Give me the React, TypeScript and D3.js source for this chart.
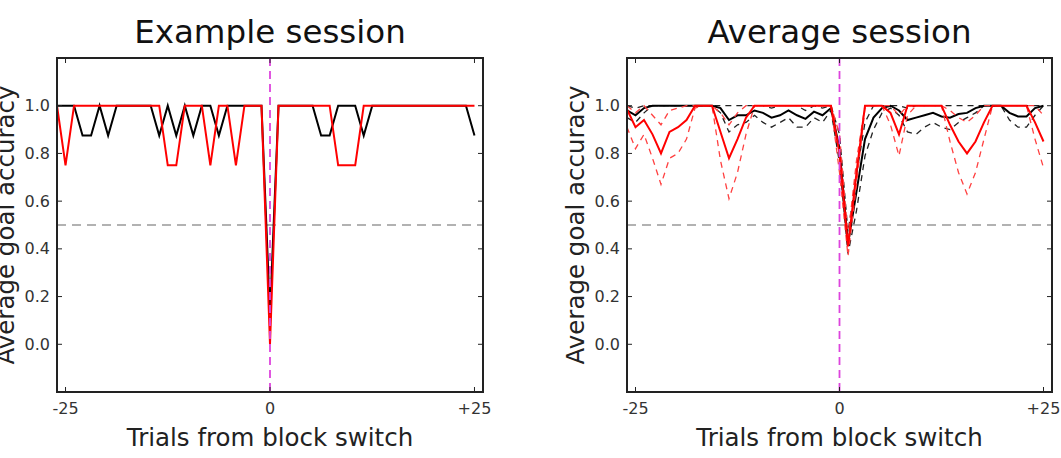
import * as d3 from 'd3'

// trials relative to the block switch
const trials = [
  -25, -24, -23, -22, -21, -20, -19, -18, -17, -16,
  -15, -14, -13, -12, -11, -10, -9, -8, -7, -6,
  -5, -4, -3, -2, -1, 0, 1, 2, 3, 4,
  5, 6, 7, 8, 9, 10, 11, 12, 13, 14,
  15, 16, 17, 18, 19, 20, 21, 22, 23, 24,
]

const xTicks = [-24, 0, 24]
const xTickLabels = ['-25', '0', '+25']
const yTicks = [0, 0.2, 0.4, 0.6, 0.8, 1.0]

// example session
const exampleBlack = [
  1, 1, 1, 0.875, 0.875, 1, 0.875, 1, 1, 1,
  1, 1, 0.875, 1, 0.875, 1, 0.875, 1, 1, 0.875,
  1, 1, 1, 1, 1, 0.125, 1, 1, 1, 1,
  1, 0.875, 0.875, 1, 1, 1, 0.875, 1, 1, 1,
  1, 1, 1, 1, 1, 1, 1, 1, 1, 0.875,
]
const exampleRed = [
  1, 0.75, 1, 1, 1, 1, 1, 1, 1, 1,
  1, 1, 1, 0.75, 0.75, 1, 1, 1, 0.75, 1,
  1, 0.75, 1, 1, 1, 0, 1, 1, 1, 1,
  1, 1, 1, 0.75, 0.75, 0.75, 1, 1, 1, 1,
  1, 1, 1, 1, 1, 1, 1, 1, 1, 1,
]

// average session: mean and bounds
const avgBlack = [
  0.98, 0.96, 0.99, 1, 1, 1, 1, 1, 1, 1,
  1, 0.99, 0.94, 0.96, 0.96, 0.98, 0.97, 0.95, 0.96, 0.98,
  0.96, 0.945, 0.975, 0.96, 0.99, 0.82, 0.42, 0.64, 0.86, 0.95,
  0.99, 1, 0.98, 0.94, 0.95, 0.96, 0.97, 0.955, 0.95, 0.965,
  0.97, 0.99, 1, 1, 1, 0.97, 0.955, 0.955, 0.99, 1,
]
const avgBlackLow = [
  0.95, 0.93, 0.97, 1, 1, 1, 1, 1, 1, 1,
  1, 0.97, 0.89, 0.92, 0.93, 0.96, 0.93, 0.91, 0.93, 0.95,
  0.91, 0.91, 0.95, 0.93, 0.98, 0.76, 0.38, 0.56, 0.79, 0.9,
  0.97, 0.99, 0.96, 0.89, 0.88, 0.91, 0.93, 0.91, 0.9, 0.93,
  0.95, 0.97, 1, 1, 1, 0.94, 0.91, 0.91, 0.96, 1,
]
const avgBlackHigh = [
  1, 0.99, 1, 1, 1, 1, 1, 1, 1, 1,
  1, 1, 1, 1, 1, 1, 1, 0.99, 1, 1,
  1, 0.98, 1, 0.99, 1, 0.88, 0.47, 0.71, 0.93, 1,
  1, 1, 1, 0.99, 1, 1, 1, 1, 1, 1,
  1, 1, 1, 1, 1, 1, 1, 1, 1, 1,
]
const avgRed = [
  0.985, 0.91, 0.94, 0.88, 0.8, 0.89, 0.91, 0.94, 1, 1,
  1, 0.89, 0.78, 0.86, 0.95, 1, 1, 1, 1, 1,
  1, 1, 1, 1, 1, 0.8, 0.41, 0.72, 1, 1,
  1, 0.97, 0.88, 1, 1, 1, 1, 1, 0.92, 0.85,
  0.8, 0.85, 0.93, 1, 1, 1, 1, 1, 0.93, 0.85,
]
const avgRedLow = [
  0.91, 0.82, 0.88, 0.78, 0.67, 0.78, 0.8, 0.86, 0.99, 1,
  1, 0.77, 0.61, 0.72, 0.88, 1, 1, 1, 1, 1,
  1, 1, 1, 1, 1, 0.72, 0.37, 0.67, 0.99, 1,
  1, 0.92, 0.79, 0.96, 1, 1, 1, 1, 0.85, 0.72,
  0.63, 0.72, 0.86, 1, 1, 1, 1, 1, 0.86, 0.74,
]
const avgRedHigh = [
  1, 0.97, 1, 0.96, 0.92, 0.98, 0.99, 1, 1, 1,
  1, 0.97, 0.92, 0.97, 1, 1, 1, 1, 1, 1,
  1, 1, 1, 1, 1, 0.88, 0.45, 0.77, 1, 1,
  1, 1, 0.96, 1, 1, 1, 1, 1, 0.98, 0.95,
  0.93, 0.96, 1, 1, 1, 1, 1, 1, 1, 0.96,
]

const font = '"DejaVu Sans", sans-serif'
const top = 58
const bottom = 392

type Series = { values: number[]; color: string; width: number; dash?: string }

function Panel({ left, right, title, series }: { left: number; right: number; title: string; series: Series[] }) {
  const x = d3.scaleLinear().domain([-25, 25]).range([left, right])
  const y = d3.scaleLinear().domain([-0.2, 1.2]).range([bottom, top])
  const line = d3.line<number>().x((_, i) => x(trials[i])).y(v => y(v))
  const cx = (left + right) / 2
  return (
    <g>
      <text x={cx} y={43} textAnchor="middle" fontSize={32.5} fill="#111">{title}</text>
      <line x1={left} x2={right} y1={y(0.5)} y2={y(0.5)} stroke="#999" strokeWidth={1.5} strokeDasharray="9,6" />
      {series.map((s, k) => (
        <path key={k} d={line(s.values) ?? ''} fill="none" stroke={s.color} strokeWidth={s.width}
          strokeDasharray={s.dash} strokeLinejoin="miter" />
      ))}
      <line x1={x(0)} x2={x(0)} y1={top} y2={bottom} stroke="#dd44dd" strokeWidth={1.8} strokeDasharray="8,5" />
      {yTicks.map(t => (
        <g key={t}>
          <line x1={left} x2={left + 5} y1={y(t)} y2={y(t)} stroke="#222" strokeWidth={1} />
          <line x1={right} x2={right - 5} y1={y(t)} y2={y(t)} stroke="#222" strokeWidth={1} />
          <text x={left - 7} y={y(t) + 5.5} textAnchor="end" fontSize={16} fill="#333">{t.toFixed(1)}</text>
        </g>
      ))}
      {xTicks.map((t, i) => (
        <g key={t}>
          <line x1={x(t)} x2={x(t)} y1={bottom} y2={bottom - 5} stroke="#222" strokeWidth={1} />
          <line x1={x(t)} x2={x(t)} y1={top} y2={top + 5} stroke="#222" strokeWidth={1} />
          <text x={x(t)} y={414} textAnchor="middle" fontSize={16} fill="#333">{xTickLabels[i]}</text>
        </g>
      ))}
      <rect x={left} y={top} width={right - left} height={bottom - top} fill="none" stroke="#222" strokeWidth={2} />
      <text x={cx} y={446} textAnchor="middle" fontSize={24.5} fill="#222">Trials from block switch</text>
      <text transform={`translate(${left - 43},${(top + bottom) / 2}) rotate(-90)`} textAnchor="middle"
        fontSize={24.5} fill="#222">Average goal accuracy</text>
    </g>
  )
}

export default function App() {
  return (
    <svg width={1061} height={458} style={{ position: 'absolute', left: 0, top: 0, fontFamily: font, background: '#fff' }}>
      <Panel left={57} right={483} title="Example session" series={[
        { values: exampleBlack, color: '#000', width: 2 },
        { values: exampleRed, color: '#ff0000', width: 2 },
      ]} />
      <Panel left={627} right={1052} title="Average session" series={[
        { values: avgBlackLow, color: '#222', width: 1.3, dash: '6,5' },
        { values: avgBlackHigh, color: '#222', width: 1.3, dash: '6,5' },
        { values: avgBlack, color: '#000', width: 2 },
        { values: avgRedLow, color: '#ff4040', width: 1.3, dash: '6,5' },
        { values: avgRedHigh, color: '#ff4040', width: 1.3, dash: '6,5' },
        { values: avgRed, color: '#ff0000', width: 2 },
      ]} />
    </svg>
  )
}
